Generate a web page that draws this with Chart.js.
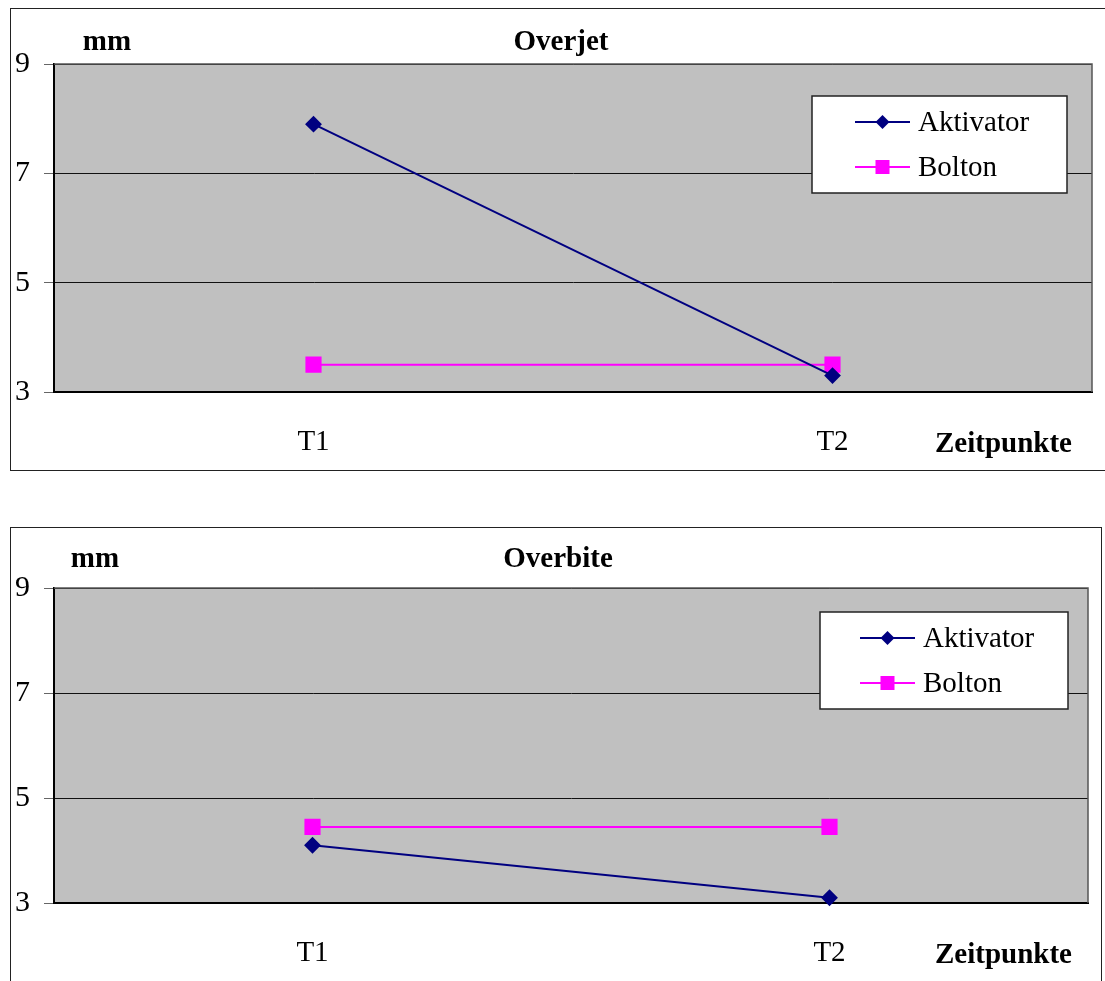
<!DOCTYPE html>
<html>
<head>
<meta charset="utf-8">
<script src="https://cdn.jsdelivr.net/npm/chart.js@4.4.1/dist/chart.umd.min.js"></script>
<style>
  body { margin: 0; background: #fff; width: 1105px; height: 981px; overflow: hidden; position: relative; font-family: "Liberation Serif", serif; }
  .panel { position: absolute; border: 1.5px solid #222; box-sizing: border-box; }
  .lbl { position: absolute; font-weight: bold; font-size: 29px; line-height: 1; white-space: nowrap; transform: translateY(-50%); }
  .c { transform: translate(-50%, -50%); }
  canvas { position: absolute; left: 0; }
</style>
</head>
<body>
<div class="panel" style="left:10px; top:8px; width:1110px; height:463px;"></div>
<div class="panel" style="left:10px; top:527px; width:1092px; height:470px;"></div>

<canvas id="overjetChart" width="1105" height="480" style="top:0"></canvas>
<canvas id="overbiteChart" width="1105" height="461" style="top:520px"></canvas>

<div class="lbl c" style="left:107px; top:40px;">mm</div>
<div class="lbl c" style="left:561px; top:40px;">Overjet</div>
<div class="lbl" style="left:935px; top:442px;">Zeitpunkte</div>
<div class="lbl c" style="left:95px; top:557px;">mm</div>
<div class="lbl c" style="left:558px; top:557px;">Overbite</div>
<div class="lbl" style="left:935px; top:953px;">Zeitpunkte</div>

<script>
// data
const categories = ['T1', 'T2'];
const seriesNames = ['Aktivator', 'Bolton'];
const overjetAktivator = [7.9, 3.3];
const overjetBolton = [3.5, 3.5];
const overbiteAktivator = [4.1, 3.1];
const overbiteBolton = [4.45, 4.45];
const yMin = 3;
const yMax = 9;
const yStep = 2;

const FONT = 'Liberation Serif';

// grey plot background + thin frame on top/right
const plotBackground = {
    id: 'plotBackground',
    beforeDraw(chart) {
        const { ctx, chartArea: a } = chart;
        ctx.save();
        ctx.fillStyle = '#c0c0c0';
        ctx.fillRect(a.left, a.top, a.right - a.left, a.bottom - a.top);
        ctx.restore();
    },
    afterDatasetsDraw(chart) {
        const { ctx, chartArea: a } = chart;
        ctx.save();
        ctx.strokeStyle = '#555';
        ctx.lineWidth = 1.5;
        ctx.beginPath();
        ctx.moveTo(a.left, a.top);
        ctx.lineTo(a.right, a.top);
        ctx.lineTo(a.right, a.bottom);
        ctx.stroke();
        ctx.restore();
    }
};

// legend box inside the plot area
const boxLegend = {
    id: 'boxLegend',
    afterDraw(chart, args, opts) {
        const { ctx, chartArea: a } = chart;
        const left = a.right - opts.right - opts.width;
        const top = a.top + opts.top;
        ctx.save();
        ctx.fillStyle = '#fff';
        ctx.fillRect(left, top, opts.width, opts.height);
        ctx.strokeStyle = '#222';
        ctx.lineWidth = 1.5;
        ctx.strokeRect(left, top, opts.width, opts.height);

        chart.data.datasets.forEach((ds, i) => {
            const y = top + 26 + i * 45;
            const x0 = left + opts.lineStart;
            const x1 = x0 + 55;
            const xm = (x0 + x1) / 2;
            ctx.strokeStyle = ds.borderColor;
            ctx.lineWidth = 2;
            ctx.beginPath();
            ctx.moveTo(x0, y);
            ctx.lineTo(x1, y);
            ctx.stroke();
            ctx.fillStyle = ds.pointBackgroundColor;
            if (ds.pointStyle === 'rectRot') {
                ctx.beginPath();
                ctx.moveTo(xm, y - 7);
                ctx.lineTo(xm + 7, y);
                ctx.lineTo(xm, y + 7);
                ctx.lineTo(xm - 7, y);
                ctx.closePath();
                ctx.fill();
            } else {
                ctx.fillRect(xm - 7, y - 7, 14, 14);
            }
            ctx.fillStyle = '#000';
            ctx.font = '29px "' + FONT + '"';
            ctx.textBaseline = 'middle';
            ctx.fillText(ds.label, x1 + 8, y + 1);
        });
        ctx.restore();
    }
};

function makeChart(id, aktivator, bolton, layout) {
    const ctx = document.getElementById(id).getContext('2d');
    return new Chart(ctx, {
        type: 'line',
        data: {
            labels: categories,
            datasets: [{
                label: seriesNames[0],
                data: aktivator,
                borderColor: '#000080',
                backgroundColor: '#000080',
                pointBackgroundColor: '#000080',
                pointBorderColor: '#000080',
                pointStyle: 'rectRot',
                pointRadius: 7,
                borderWidth: 2,
                tension: 0,
                clip: false
            }, {
                label: seriesNames[1],
                data: bolton,
                borderColor: '#ff00ff',
                backgroundColor: '#ff00ff',
                pointBackgroundColor: '#ff00ff',
                pointBorderColor: '#ff00ff',
                pointStyle: 'rect',
                pointRadius: 10,
                borderWidth: 2,
                tension: 0,
                clip: false
            }]
        },
        options: {
            responsive: false,
            animation: false,
            events: [],
            layout: {
                padding: { top: layout.top, right: layout.right, left: 0, bottom: 0 }
            },
            plugins: {
                legend: { display: false },
                tooltip: { enabled: false },
                boxLegend: layout.legend
            },
            scales: {
                x: {
                    offset: true,
                    afterFit: (scale) => { scale.height = layout.xHeight; },
                    grid: { display: false, drawTicks: false },
                    border: { display: true, color: '#000', width: 2 },
                    ticks: {
                        color: '#000',
                        padding: 33,
                        font: { family: FONT, size: 29 }
                    }
                },
                y: {
                    min: yMin,
                    max: yMax,
                    afterFit: (scale) => { scale.width = 54; },
                    grid: {
                        color: '#111',
                        lineWidth: 1,
                        drawTicks: true,
                        tickLength: 10,
                        tickColor: '#666'
                    },
                    border: { display: true, color: '#000', width: 2 },
                    ticks: {
                        stepSize: yStep,
                        color: '#000',
                        padding: 14,
                        font: { family: FONT, size: 30 }
                    }
                }
            }
        },
        plugins: [plotBackground, boxLegend]
    });
}

makeChart('overjetChart', overjetAktivator, overjetBolton, {
    top: 64, right: 13, xHeight: 88,
    legend: { right: 25, top: 32, width: 255, height: 97, lineStart: 43 }
});
makeChart('overbiteChart', overbiteAktivator, overbiteBolton, {
    top: 68, right: 17, xHeight: 78,
    legend: { right: 20, top: 24, width: 248, height: 97, lineStart: 40 }
});
</script>
</body>
</html>
